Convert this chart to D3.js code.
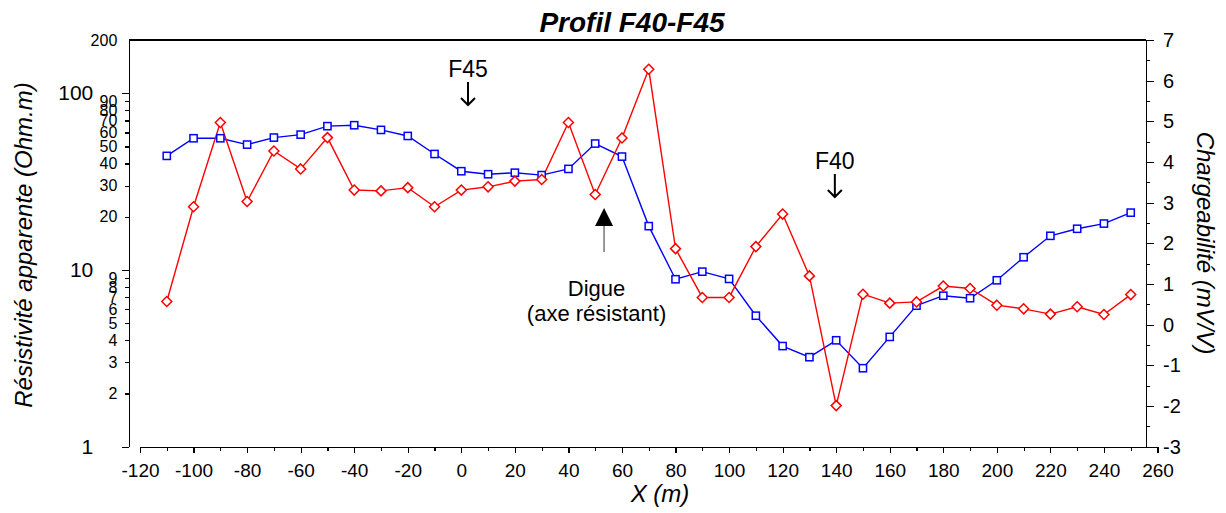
<!DOCTYPE html>
<html>
<head>
<meta charset="utf-8">
<script src="https://cdn.jsdelivr.net/npm/d3@7/dist/d3.min.js"></script>
<style>
  html, body { margin: 0; padding: 0; background: #fff; }
  svg { display: block; font-family: "Liberation Sans", Arial, sans-serif; }
  .axis path, .axis line { stroke: #000; stroke-width: 1.2; shape-rendering: crispEdges; }
  .axis text { fill: #000; }
</style>
</head>
<body>
<svg id="chart" width="1226" height="513"></svg>
<script>
// Profile positions (m)
const positions = [-110, -100, -90, -80, -70, -60, -50, -40, -30, -20, -10, 0, 10, 20, 30, 40, 50, 60, 70,
                   80, 90, 100, 110, 120, 130, 140, 150, 160, 170, 180, 190, 200, 210, 220, 230, 240, 250];

// Apparent resistivity (Ohm.m), left log axis
const resistivity = [44.2, 55.6, 55.6, 51.2, 56.1, 58.3, 65.1, 65.9, 62.0, 57.3, 45.3, 36.2, 34.8, 35.5, 34.4, 37.3, 51.9, 43.8, 17.7,
                     8.86, 9.78, 8.9, 5.51, 3.71, 3.21, 4.0, 2.78, 4.18, 6.28, 7.15, 6.92, 8.74, 11.8, 15.6, 17.1, 18.3, 21.1];

// Chargeability (mV/V), right linear axis
const chargeability = [0.57, 2.90, 4.97, 3.03, 4.27, 3.83, 4.60, 3.31, 3.29, 3.37, 2.90, 3.31, 3.39, 3.53, 3.57, 4.97, 3.20, 4.59, 6.28,
                       1.87, 0.67, 0.67, 1.92, 2.72, 1.20, -1.99, 0.75, 0.53, 0.56, 0.95, 0.89, 0.48, 0.39, 0.26, 0.44, 0.25, 0.74];

// Tick values
const xMajorTicks = d3.range(-120, 261, 20);
const xMinorTicks = d3.range(-110, 260, 20);
const leftMajorTicks = [1, 10, 100];
const leftMinorTicks = [2, 3, 4, 5, 6, 7, 8, 9, 20, 30, 40, 50, 60, 70, 80, 90, 200];
const rightMajorTicks = d3.range(-3, 8, 1);
const rightMinorTicks = d3.range(-2.5, 7, 1);

// Annotations
const wells = [{ name: "F45", x: 2.5 }, { name: "F40", x: 139.5 }];
const dyke = { x: 53.3, labelX: 50.5, lines: ["Digue", "(axe résistant)"] };

// Plain hyphen for negative numbers
const plain = d => String(d);

const svg = d3.select("#chart");

const plotTop = 40, plotBottom = 446.7, leftX = 129.3, rightX = 1146;

const x = d3.scaleLinear().domain([-120, 260]).range([140, 1157.5]);
const yL = d3.scaleLog().domain([1, 200]).range([plotBottom, plotTop]);
const yR = d3.scaleLinear().domain([-3, 7]).range([plotBottom, plotTop]);

// Top frame line
svg.append("line")
  .attr("x1", leftX).attr("x2", rightX)
  .attr("y1", plotTop).attr("y2", plotTop)
  .attr("stroke", "#000").attr("stroke-width", 1.2)
  .attr("shape-rendering", "crispEdges");

// X axis (separate, below the plot)
const xAxisY = 447.3;
svg.append("g").attr("class", "axis")
  .attr("transform", `translate(0,${xAxisY})`)
  .call(d3.axisBottom(x).tickValues(xMajorTicks).tickSize(6).tickSizeOuter(0).tickPadding(10).tickFormat(plain))
  .call(g => g.selectAll("text").attr("font-size", 19));
svg.append("g").attr("class", "axis")
  .attr("transform", `translate(0,${xAxisY})`)
  .call(d3.axisBottom(x).tickValues(xMinorTicks).tickSize(3.5).tickFormat(""))
  .call(g => g.select(".domain").remove());

// Left log axis
svg.append("g").attr("class", "axis")
  .attr("transform", `translate(${leftX},0)`)
  .call(d3.axisLeft(yL).tickValues(leftMajorTicks).tickSize(7).tickSizeOuter(0).tickPadding(29).tickFormat(plain))
  .call(g => g.selectAll("text").attr("font-size", 21));
svg.append("g").attr("class", "axis")
  .attr("transform", `translate(${leftX},0)`)
  .call(d3.axisLeft(yL).tickValues(leftMinorTicks).tickSize(4).tickPadding(8).tickFormat(plain))
  .call(g => g.select(".domain").remove())
  .call(g => g.selectAll(".tick").filter(d => d === 200).select("line").remove())
  .call(g => g.selectAll("text").attr("font-size", 16));

// Right linear axis
svg.append("g").attr("class", "axis")
  .attr("transform", `translate(${rightX},0)`)
  .call(d3.axisRight(yR).tickValues(rightMajorTicks).tickSize(8).tickSizeOuter(0).tickPadding(9).tickFormat(plain))
  .call(g => g.selectAll("text").attr("font-size", 20));
svg.append("g").attr("class", "axis")
  .attr("transform", `translate(${rightX},0)`)
  .call(d3.axisRight(yR).tickValues(rightMinorTicks).tickSize(4).tickFormat(""))
  .call(g => g.select(".domain").remove());

// Titles
svg.append("text")
  .attr("x", 632).attr("y", 32)
  .attr("text-anchor", "middle")
  .attr("font-size", 28).attr("font-weight", "bold").attr("font-style", "italic")
  .text("Profil F40-F45");

svg.append("text")
  .attr("transform", "translate(32,245) rotate(-90)")
  .attr("text-anchor", "middle")
  .attr("font-size", 24).attr("font-style", "italic")
  .text("Résistivité apparente (Ohm.m)");

svg.append("text")
  .attr("transform", "translate(1197,243) rotate(90)")
  .attr("text-anchor", "middle")
  .attr("font-size", 24).attr("font-style", "italic")
  .text("Chargeabilité (mV/V)");

svg.append("text")
  .attr("x", 660).attr("y", 502)
  .attr("text-anchor", "middle")
  .attr("font-size", 24).attr("font-style", "italic")
  .text("X (m)");

// Series
const resData = positions.map((p, i) => ({ x: p, v: resistivity[i] }));
const chgData = positions.map((p, i) => ({ x: p, v: chargeability[i] }));

svg.append("path")
  .datum(resData)
  .attr("fill", "none").attr("stroke", "#0000ff").attr("stroke-width", 1.4)
  .attr("d", d3.line().x(d => x(d.x)).y(d => yL(d.v)));

svg.append("path")
  .datum(chgData)
  .attr("fill", "none").attr("stroke", "#ff0000").attr("stroke-width", 1.4)
  .attr("d", d3.line().x(d => x(d.x)).y(d => yR(d.v)));

svg.append("g").selectAll("rect")
  .data(resData).join("rect")
  .attr("x", d => x(d.x) - 3.6).attr("y", d => yL(d.v) - 3.6)
  .attr("width", 7.2).attr("height", 7.2)
  .attr("fill", "#fff").attr("stroke", "#0000ff").attr("stroke-width", 1.5);

svg.append("g").selectAll("path")
  .data(chgData).join("path")
  .attr("transform", d => `translate(${x(d.x)},${yR(d.v)})`)
  .attr("d", "M0,-5L5,0L0,5L-5,0Z")
  .attr("fill", "#fff").attr("stroke", "#ff0000").attr("stroke-width", 1.5);

// Well markers with down arrows
const wellY = { F45: 77, F40: 169 };
wells.forEach(w => {
  const cx = x(w.x), by = wellY[w.name];
  svg.append("text")
    .attr("x", cx).attr("y", by)
    .attr("text-anchor", "middle").attr("font-size", 23)
    .text(w.name);
  const top = by + 5, tip = by + 28;
  svg.append("path")
    .attr("d", `M${cx},${top}V${tip}M${cx - 7},${tip - 7}L${cx},${tip}L${cx + 7},${tip - 7}`)
    .attr("fill", "none").attr("stroke", "#000").attr("stroke-width", 2);
});

// Dyke arrow and label
const dx = x(dyke.x);
svg.append("path")
  .attr("d", `M${dx},208L${dx + 9},226L${dx - 9},226Z`)
  .attr("fill", "#000");
svg.append("line")
  .attr("x1", dx).attr("x2", dx).attr("y1", 226).attr("y2", 252)
  .attr("stroke", "#333").attr("stroke-width", 1);
dyke.lines.forEach((t, i) => {
  svg.append("text")
    .attr("x", x(dyke.labelX)).attr("y", 296 + i * 25)
    .attr("text-anchor", "middle").attr("font-size", 22)
    .text(t);
});
</script>
</body>
</html>
